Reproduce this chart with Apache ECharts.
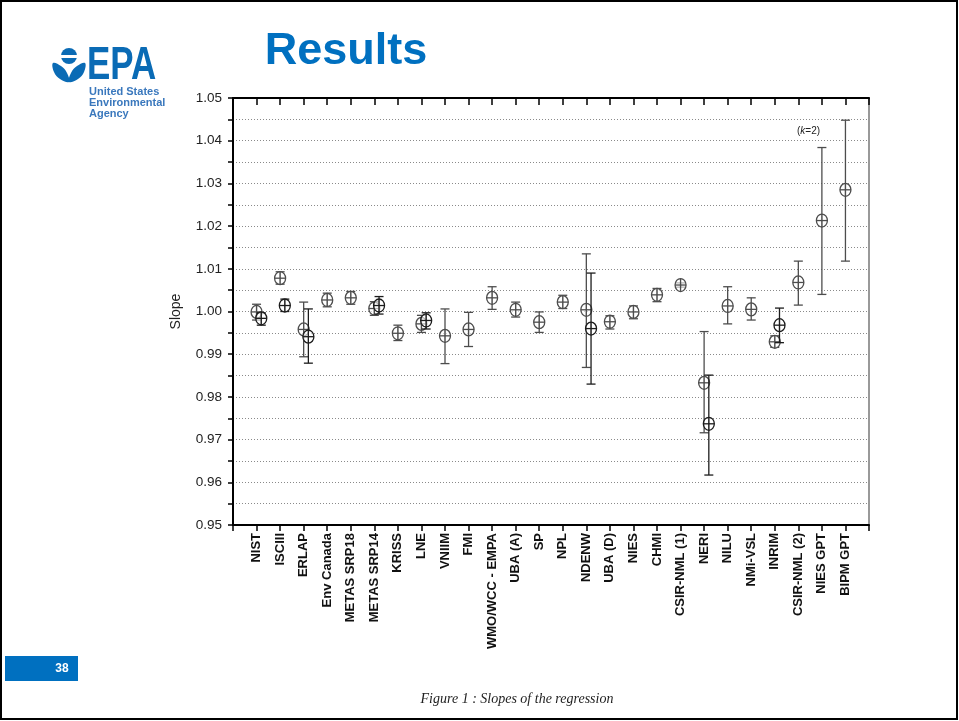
<!DOCTYPE html>
<html>
<head>
<meta charset="utf-8">
<script src="https://cdn.jsdelivr.net/npm/echarts@6/dist/echarts.min.js"></script>
<style>
  html, body { margin: 0; padding: 0; background: #fff; }
  #chart { width: 959px; height: 721px; }
</style>
</head>
<body>
<div id="chart"></div>
<script>
// laboratories along the x axis (positions 1..26)
var categories = ['NIST', 'ISCIII', 'ERLAP', 'Env Canada', 'METAS SRP18', 'METAS SRP14', 'KRISS', 'LNE',
    'VNIIM', 'FMI', 'WMO/WCC - EMPA', 'UBA (A)', 'SP', 'NPL', 'NDENW', 'UBA (D)', 'NIES', 'CHMI',
    'CSIR-NML (1)', 'NERI', 'NILU', 'NMi-VSL', 'INRIM', 'CSIR-NML (2)', 'NIES GPT', 'BIPM GPT'];

// first result of each lab: slope and error bar ends (k=2)
var slopeA = [0.9999, 1.0078, 0.9958, 1.0027, 1.0032, 1.0007, 0.9949, 0.9971, 0.9943, 0.9958, 1.0032, 1.0004, 0.9975,
    1.0022, 1.0004, 0.9976, 0.9999, 1.0039, 1.0062, 0.9833, 1.0013, 1.0005, 0.9929, 1.0068, 1.0213, 1.0285];
var lowA = [0.9980, 1.0064, 0.9894, 1.0011, 1.0017, 0.9991, 0.9932, 0.9951, 0.9878, 0.9918, 1.0005, 0.9987, 0.9951,
    1.0007, 0.9869, 0.9959, 0.9983, 1.0023, 1.0057, 0.9716, 0.9971, 0.9980, 0.9916, 1.0015, 1.0040, 1.0118];
var highA = [1.0017, 1.0093, 1.0022, 1.0043, 1.0047, 1.0023, 0.9968, 0.9991, 1.0006, 0.9998, 1.0058, 1.0022, 0.9999,
    1.0038, 1.0135, 0.9990, 1.0013, 1.0054, 1.0067, 0.9953, 1.0058, 1.0032, 0.9943, 1.0118, 1.0384, 1.0448];

// second result, only for some labs
var slopeB = [0.9984, 1.0014, 0.9941, null, null, 1.0014, null, 0.9979, null, null, null, null, null,
    null, 0.9960, null, null, null, null, 0.9737, null, null, 0.9968, null, null, null];
var lowB = [0.9968, 1.0000, 0.9879, null, null, 0.9994, null, 0.9959, null, null, null, null, null,
    null, 0.9830, null, null, null, null, 0.9617, null, null, 0.9927, null, null, null];
var highB = [0.9997, 1.0029, 1.0006, null, null, 1.0035, null, 0.9997, null, null, null, null, null,
    null, 1.0090, null, null, null, null, 0.9851, null, null, 1.0008, null, null, null];

var yTicks = { min: 0.95, max: 1.05, step: 0.01 };

function buildData(slope, low, high, shift) {
    var out = [];
    for (var i = 0; i < categories.length; i++) {
        if (slope[i] == null) continue;
        out.push([i + 1 + shift, slope[i], low[i], high[i]]);
    }
    return out;
}

function renderPoint(params, api) {
    var x = api.value(0);
    var p = api.coord([x, api.value(1)]);
    var lo = api.coord([x, api.value(2)]);
    var hi = api.coord([x, api.value(3)]);
    var c = api.visual('color');
    var st = { stroke: c, lineWidth: 1.3, fill: null };
    var cap = 4.5, rx = 5.5, ry = 6.5;
    return {
        type: 'group',
        children: [
            { type: 'line', shape: { x1: lo[0], y1: lo[1], x2: hi[0], y2: hi[1] }, style: st },
            { type: 'line', shape: { x1: lo[0] - cap, y1: lo[1], x2: lo[0] + cap, y2: lo[1] }, style: st },
            { type: 'line', shape: { x1: hi[0] - cap, y1: hi[1], x2: hi[0] + cap, y2: hi[1] }, style: st },
            { type: 'ellipse', shape: { cx: p[0], cy: p[1], rx: rx, ry: ry }, style: { stroke: c, lineWidth: 1.3, fill: 'rgba(255,255,255,0.6)' } },
            { type: 'line', shape: { x1: p[0] - rx, y1: p[1], x2: p[0] + rx, y2: p[1] }, style: st },
            { type: 'line', shape: { x1: p[0], y1: p[1] - ry, x2: p[0], y2: p[1] + ry }, style: st }
        ]
    };
}

var chart = echarts.init(document.getElementById('chart'));

var dotted = { show: true, lineStyle: { color: '#8a8a8a', type: [1, 2], width: 1 } };
var blue = '#0a6bb5';

var option = {
    backgroundColor: '#fff',
    animation: false,
    grid: { left: 233, top: 98, right: 90, bottom: 196 },
    xAxis: [{
        type: 'value', position: 'bottom', min: 0, max: categories.length + 1, interval: 1,
        axisLine: { onZero: false, lineStyle: { color: '#000', width: 2 } },
        axisTick: { show: true, inside: false, length: 6, lineStyle: { color: '#000', width: 1.5 } },
        splitLine: { show: false },
        axisLabel: {
            rotate: 90, margin: 8, color: '#111', fontSize: 13, fontWeight: 'bold',
            fontFamily: 'Liberation Sans, Arial, sans-serif',
            formatter: function (v) { return categories[v - 1] || ''; }
        }
    }, {
        type: 'value', position: 'top', min: 0, max: categories.length + 1, interval: 1,
        axisLine: { onZero: false, lineStyle: { color: '#000', width: 2 } },
        axisTick: { show: true, inside: true, length: 7, lineStyle: { color: '#000', width: 1.5 } },
        axisLabel: { show: false },
        splitLine: { show: false }
    }],
    yAxis: [{
        type: 'value', min: yTicks.min, max: yTicks.max, interval: yTicks.step,
        name: 'Slope', nameLocation: 'middle', nameRotate: 90, nameGap: 50,
        nameTextStyle: { fontSize: 14, color: '#222', fontFamily: 'Liberation Sans, Arial, sans-serif' },
        axisLine: { show: true, onZero: false, lineStyle: { color: '#000', width: 2 } },
        axisTick: { show: true, inside: false, length: 5, lineStyle: { color: '#000', width: 1.5 } },
        minorTick: { show: true, splitNumber: 2, length: 5, lineStyle: { color: '#000', width: 1.5 } },
        splitLine: dotted,
        minorSplitLine: dotted,
        axisLabel: {
            margin: 11, fontSize: 13.5, color: '#222', fontFamily: 'Liberation Sans, Arial, sans-serif',
            formatter: function (v) { return v.toFixed(2); }
        }
    }, {
        type: 'value', position: 'right', min: yTicks.min, max: yTicks.max, interval: yTicks.step,
        axisLine: { show: true, onZero: false, lineStyle: { color: '#777', width: 1.5 } },
        axisTick: { show: false }, axisLabel: { show: false }, splitLine: { show: false }
    }],
    series: [{
        type: 'custom', name: 'first', renderItem: renderPoint, xAxisIndex: 0, yAxisIndex: 0,
        itemStyle: { color: '#4d4d4d' }, encode: { x: 0, y: 1 }, z: 5,
        data: buildData(slopeA, lowA, highA, 0)
    }, {
        type: 'custom', name: 'second', renderItem: renderPoint, xAxisIndex: 0, yAxisIndex: 0,
        itemStyle: { color: '#1c1c1c' }, encode: { x: 0, y: 1 }, z: 6,
        data: buildData(slopeB, lowB, highB, 0.2)
    }],
    graphic: [
        // slide frame
        { type: 'rect', shape: { x: 1, y: 1, width: 956, height: 718 }, style: { fill: null, stroke: '#000', lineWidth: 2 }, z: 100 },
        // title
        { type: 'text', x: 346, y: 52, style: { text: 'Results', fill: '#0070C0', font: 'bold 45px "Liberation Sans", Arial, sans-serif', align: 'center', verticalAlign: 'middle' } },
        // EPA logo
        { type: 'circle', shape: { cx: 69, cy: 56, r: 8 }, style: { fill: blue } },
        { type: 'rect', shape: { x: 57, y: 55, width: 24, height: 3 }, style: { fill: '#fff' } },
        { type: 'polygon', shape: { points: [[69, 82], [60, 79], [54, 72], [53, 63], [61, 66], [67, 73]], smooth: 0.4 }, style: { fill: blue } },
        { type: 'polygon', shape: { points: [[69, 82], [78, 79], [84, 72], [85, 63], [77, 66], [71, 73]], smooth: 0.4 }, style: { fill: blue } },
        { type: 'text', x: 87, y: 66, scaleX: 0.76, style: { text: 'EPA', fill: blue, font: 'bold 46px "Liberation Sans", Arial, sans-serif', verticalAlign: 'middle' } },
        { type: 'text', x: 89, y: 92, style: { text: 'United States', fill: '#3a78bd', font: 'bold 11px "Liberation Sans", Arial, sans-serif', verticalAlign: 'middle' } },
        { type: 'text', x: 89, y: 103, style: { text: 'Environmental', fill: '#3a78bd', font: 'bold 11px "Liberation Sans", Arial, sans-serif', verticalAlign: 'middle' } },
        { type: 'text', x: 89, y: 114, style: { text: 'Agency', fill: '#3a78bd', font: 'bold 11px "Liberation Sans", Arial, sans-serif', verticalAlign: 'middle' } },
        { type: 'rect', shape: { x: 166, y: 95, width: 16, height: 14 }, style: { fill: '#fff' } },
        // coverage note
        { type: 'text', x: 797, y: 131, z: 10, style: { rich: { i: { fontStyle: 'italic', fontSize: 10, fill: '#222' } }, text: '({i|k}=2)', fill: '#222', font: '10px "Liberation Sans", Arial, sans-serif', verticalAlign: 'middle' } },
        // page number
        { type: 'rect', shape: { x: 5, y: 656, width: 73, height: 25 }, style: { fill: '#0070C0' } },
        { type: 'text', x: 62, y: 669, style: { text: '38', fill: '#fff', font: 'bold 12px "Liberation Sans", Arial, sans-serif', align: 'center', verticalAlign: 'middle' } },
        // caption
        { type: 'text', x: 517, y: 699, style: { text: 'Figure 1 : Slopes of the regression', fill: '#222', font: 'italic 14px "Liberation Serif", "DejaVu Serif", serif', align: 'center', verticalAlign: 'middle' } }
    ]
};

chart.setOption(option);
</script>
</body>
</html>
